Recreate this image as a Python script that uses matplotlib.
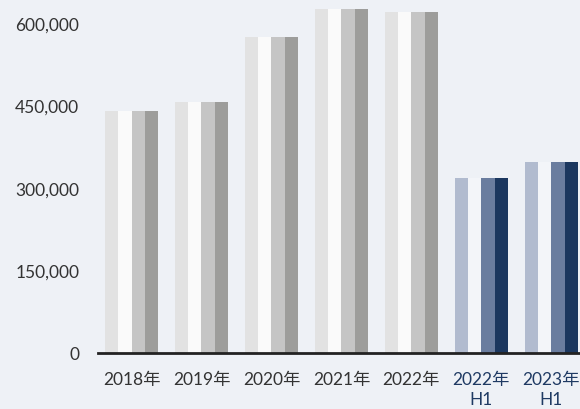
import matplotlib
matplotlib.use("Agg")
import matplotlib.pyplot as plt
import numpy as np

plt.rcParams['font.family'] = ['Lato', 'Noto Sans CJK JP', 'DejaVu Sans']

categories = ['2018年', '2019年', '2020年', '2021年', '2022年', '2022年\nH1', '2023年\nH1']
values = [440000, 456000, 574000, 625000, 620000, 318000, 347000]
n_series = 4

grey_colors = ['#e2e2e2', '#fafafa', '#c5c5c5', '#9d9d9b']
blue_colors = ['#b1bbcf', '#f3f5f9', '#6a7d9f', '#1b375f']
label_colors = ['#333333'] * 5 + ['#1f3a63'] * 2
bg = '#eef1f6'

fig = plt.figure(figsize=(5.8, 4.1), dpi=100, facecolor=bg)
ax = fig.add_axes([98 / 580, 56 / 410, 1 - 98 / 580, 1 - 56 / 410])
ax.set_facecolor(bg)

x = np.arange(len(categories))
width = 0.19
for i in range(n_series):
    cols = [grey_colors[i] if c < 5 else blue_colors[i] for c in range(len(categories))]
    ax.bar(x - 1.5 * width + i * width, values, width, color=cols, linewidth=0)

ax.set_xlim(-0.479, 6.41)
ax.set_ylim(0, 643600)
ax.set_yticks([0, 150000, 300000, 450000, 600000])
ax.set_yticklabels(['0', '150,000', '300,000', '450,000', '600,000'])
ax.set_xticks(x)
ax.set_xticklabels(categories, linespacing=1.3)

ax.tick_params(axis='both', length=0, labelsize=12.5, colors='#333333')
ax.tick_params(axis='y', pad=13.5)
ax.tick_params(axis='x', pad=13)
for lbl, c in zip(ax.get_xticklabels(), label_colors):
    lbl.set_color(c)

for s in ['top', 'right', 'left']:
    ax.spines[s].set_visible(False)
ax.spines['bottom'].set_color('#222222')
ax.spines['bottom'].set_linewidth(2)

fig.savefig('out.png', dpi=100, facecolor=bg)
